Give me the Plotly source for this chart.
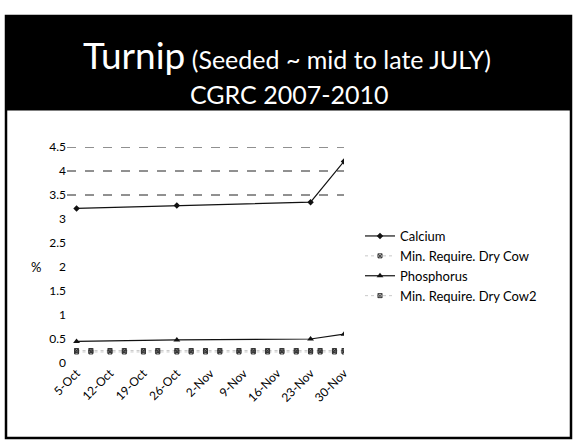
import plotly.graph_objects as go

# ---- data ----
SAMPLE_DATES = ["2009-10-05", "2009-10-26", "2009-11-23", "2009-11-30"]
CALCIUM = [3.22, 3.28, 3.35, 4.2]
PHOSPHORUS = [0.45, 0.48, 0.5, 0.6]

REQ_DATES = ["2009-10-05", "2009-10-08", "2009-10-12", "2009-10-15", "2009-10-19",
             "2009-10-22", "2009-10-26", "2009-10-29", "2009-11-01", "2009-11-04",
             "2009-11-08", "2009-11-11", "2009-11-14", "2009-11-17", "2009-11-20",
             "2009-11-23", "2009-11-25", "2009-11-28", "2009-11-30"]
REQ_DRY_COW = [0.26, 0.26, 0.26, 0.26, 0.26, 0.26, 0.26, 0.26, 0.26, 0.26,
               0.26, 0.26, 0.26, 0.26, 0.26, 0.26, 0.26, 0.26, 0.26]
REQ_DRY_COW2 = [0.23, 0.23, 0.23, 0.23, 0.23, 0.23, 0.23, 0.23, 0.23, 0.23,
                0.23, 0.23, 0.23, 0.23, 0.23, 0.23, 0.23, 0.23, 0.23]

TICK_DATES = ["2009-10-05", "2009-10-12", "2009-10-19", "2009-10-26", "2009-11-02",
              "2009-11-09", "2009-11-16", "2009-11-23", "2009-11-30"]
TICK_LABELS = ["5-Oct", "12-Oct", "19-Oct", "26-Oct", "2-Nov", "9-Nov", "16-Nov", "23-Nov", "30-Nov"]
Y_TICKS = [0, 0.5, 1, 1.5, 2, 2.5, 3, 3.5, 4, 4.5]
Y_LABELS = ["0", "0.5", "1", "1.5", "2", "2.5", "3", "3.5", "4", "4.5"]
GRID_LEVELS = [3.5, 4.0, 4.5]

FONT = "Lato"
W, H = 576, 444


def px(x):
    return x / W


def py(y):
    return 1 - y / H


fig = go.Figure()
fig.add_trace(go.Scatter(x=SAMPLE_DATES, y=CALCIUM, name="Calcium", mode="lines+markers",
                         line=dict(color="#111", width=1.2),
                         marker=dict(symbol="diamond", size=5, color="#111")))
fig.add_trace(go.Scatter(x=REQ_DATES, y=REQ_DRY_COW, name="Min. Require. Dry Cow", mode="lines+markers",
                         line=dict(color="#bbb", width=0.8, dash="dot"),
                         marker=dict(symbol="square-x-open", size=4, color="#333", line=dict(width=1))))
fig.add_trace(go.Scatter(x=SAMPLE_DATES, y=PHOSPHORUS, name="Phosphorus", mode="lines+markers",
                         line=dict(color="#111", width=1.2),
                         marker=dict(symbol="triangle-up", size=6, color="#111")))
fig.add_trace(go.Scatter(x=REQ_DATES, y=REQ_DRY_COW2, name="Min. Require. Dry Cow2", mode="lines+markers",
                         line=dict(color="#bbb", width=0.8, dash="dot"),
                         marker=dict(symbol="square-x-open", size=4, color="#333", line=dict(width=1))))

for g in GRID_LEVELS:
    fig.add_hline(y=g, line=dict(color="#222", width=1, dash="dash"), layer="below")

shapes = [
    # slide border
    dict(type="rect", xref="paper", yref="paper", x0=px(6), x1=px(571), y0=py(438), y1=py(16),
         line=dict(color="black", width=2.5), layer="below"),
    # header band
    dict(type="rect", xref="paper", yref="paper", x0=px(6), x1=px(571), y0=py(110), y1=py(16),
         fillcolor="black", line=dict(color="black", width=1), layer="below"),
]
for s in shapes:
    fig.add_shape(**s)

fig.add_annotation(xref="paper", yref="paper", x=px(287), y=py(55), xanchor="center", yanchor="middle",
                   showarrow=False,
                   text="<span style='font-size:37px'>Turnip</span> (Seeded ~ mid to late JULY)",
                   font=dict(family=FONT, size=25, color="white"))
fig.add_annotation(xref="paper", yref="paper", x=px(289), y=py(94), xanchor="center", yanchor="middle",
                   showarrow=False,
                   text="CGRC 2007-2010", font=dict(family=FONT, size=25, color="white"))
fig.add_annotation(xref="paper", yref="y", x=px(36), y=2.0, xanchor="center", showarrow=False,
                   text="%", font=dict(family=FONT, size=13, color="black"))

fig.update_layout(
    width=W, height=H, margin=dict(l=0, r=0, t=0, b=0, autoexpand=False),
    paper_bgcolor="white", plot_bgcolor="white",
    font=dict(family=FONT, color="black"),
    showlegend=True,
    legend=dict(x=px(360), y=py(221), xanchor="left", yanchor="top",
                font=dict(family=FONT, size=13, color="black"),
                bgcolor="rgba(0,0,0,0)", itemwidth=30, tracegroupgap=0),
    xaxis=dict(domain=[px(67), px(344)], type="date", range=["2009-10-03", "2009-11-30"],
               tickvals=TICK_DATES, ticktext=TICK_LABELS, tickangle=-45, showgrid=False,
               zeroline=False, showline=False, ticks="", automargin=False,
               tickfont=dict(family=FONT, size=12, color="black")),
    yaxis=dict(domain=[py(363), py(147)], range=[0, 4.5], tickvals=Y_TICKS, ticktext=Y_LABELS,
               showgrid=False, zeroline=False, showline=False, ticks="", automargin=False,
               tickfont=dict(family=FONT, size=12, color="black")),
)

fig.write_html("out.html", config={"displayModeBar": False},
               post_script="document.body.style.margin='0';document.body.style.overflow='hidden';")
